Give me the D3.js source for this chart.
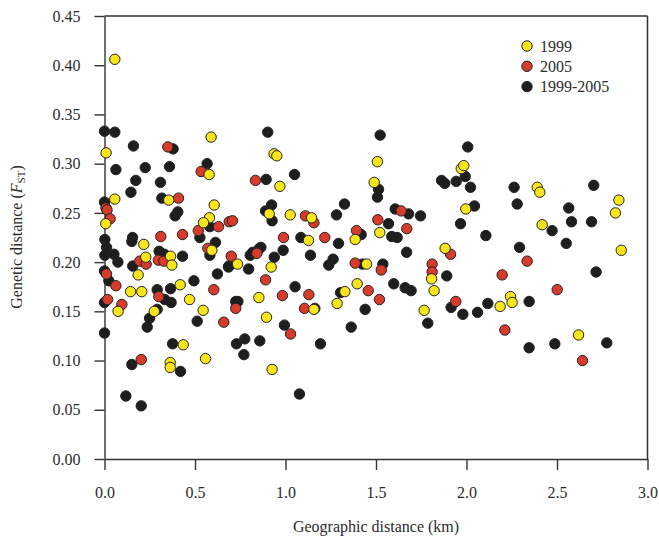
<!DOCTYPE html>
<html><head><meta charset="utf-8">
<script src="https://cdn.jsdelivr.net/npm/d3@7"></script>
<style>
html,body{margin:0;padding:0;background:#fff;}
svg text{font-family:"Liberation Serif","Times New Roman",serif;fill:#2b2b2b;}
</style></head>
<body><svg id="c" width="659" height="537"></svg>
<script>
// ---- data (geographic distance km, genetic distance Fst) ----
const x1999 = [0.057,0.009,0.057,0.007,0.217,0.228,0.355,0.365,0.372,0.589,0.578,0.606,0.580,0.547,0.593,0.735,0.937,0.952,0.969,0.910,1.026,1.144,1.127,0.921,1.508,1.490,1.971,1.985,1.996,2.391,2.405,2.418,2.842,2.823,2.855,1.521,1.385,1.882,1.448,0.144,0.186,0.206,0.275,0.418,0.470,0.545,0.558,0.363,0.363,0.435,0.853,0.895,0.926,1.157,0.075,1.396,1.328,1.285,1.807,1.821,1.766,2.186,2.243,2.252,2.619];
const y1999 = [0.406,0.311,0.264,0.239,0.218,0.205,0.263,0.206,0.197,0.327,0.289,0.258,0.245,0.240,0.212,0.198,0.310,0.308,0.277,0.249,0.248,0.245,0.222,0.195,0.302,0.281,0.295,0.298,0.254,0.276,0.271,0.238,0.263,0.250,0.212,0.230,0.223,0.214,0.198,0.170,0.187,0.170,0.150,0.177,0.162,0.151,0.102,0.098,0.093,0.116,0.164,0.144,0.091,0.152,0.150,0.178,0.170,0.158,0.183,0.171,0.151,0.155,0.165,0.159,0.126];

const x2005 = [0.350,0.008,0.014,0.031,0.534,0.409,0.311,0.431,0.518,0.630,0.689,0.707,0.700,0.842,0.834,0.989,1.110,1.157,1.217,0.195,0.230,0.298,0.328,0.571,1.510,1.392,1.639,1.670,1.912,1.385,1.810,2.335,1.529,0.011,0.063,0.017,0.096,0.203,0.300,0.604,0.659,0.725,0.890,0.983,1.028,1.105,1.129,1.810,1.457,1.519,1.941,2.197,2.212,2.501,2.641];
const y2005 = [0.317,0.255,0.253,0.244,0.292,0.265,0.226,0.228,0.232,0.236,0.241,0.242,0.206,0.209,0.283,0.225,0.247,0.240,0.225,0.201,0.198,0.202,0.201,0.214,0.243,0.232,0.252,0.234,0.208,0.199,0.198,0.201,0.192,0.188,0.176,0.162,0.157,0.101,0.165,0.172,0.139,0.153,0.182,0.166,0.127,0.153,0.167,0.190,0.171,0.162,0.160,0.187,0.131,0.172,0.100];

const xBoth = [0.0,0.057,0.160,0.379,0.063,0.225,0.359,0.567,0.173,0.309,0.146,0.317,0.0,0.405,0.390,0.002,0.011,0.002,0.052,0.074,0.155,0.151,0.302,0.331,0.431,0.156,0.527,0.582,0.613,0.582,0.805,0.819,0.856,0.864,0.687,0.796,0.902,0.893,1.050,0.890,0.923,0.926,0.938,0.987,1.085,1.138,1.239,1.523,2.007,1.514,1.508,1.862,1.880,1.943,1.993,2.022,2.044,2.263,2.280,2.703,2.565,2.580,2.691,2.473,2.551,2.293,2.107,1.967,1.669,1.326,1.282,1.293,1.569,1.606,1.680,1.746,1.587,1.617,1.418,1.263,1.425,1.538,2.716,0.0,0.0,0.0,0.024,0.151,0.118,0.203,0.236,0.249,0.291,0.291,0.333,0.368,0.365,0.376,0.420,0.494,0.512,0.624,0.685,0.725,0.737,0.729,0.775,0.770,0.858,0.994,1.053,1.077,1.162,1.193,1.304,1.440,1.363,1.598,1.661,1.694,1.891,1.915,1.980,2.061,2.118,1.786,2.346,2.346,2.488,2.775];
const yBoth = [0.333,0.332,0.318,0.315,0.294,0.296,0.297,0.300,0.283,0.281,0.271,0.265,0.261,0.251,0.247,0.223,0.215,0.207,0.208,0.200,0.225,0.221,0.211,0.208,0.206,0.196,0.225,0.236,0.220,0.207,0.207,0.210,0.214,0.215,0.196,0.193,0.332,0.284,0.289,0.252,0.258,0.242,0.205,0.212,0.225,0.207,0.197,0.329,0.317,0.274,0.266,0.283,0.280,0.282,0.287,0.276,0.257,0.276,0.259,0.278,0.255,0.241,0.241,0.232,0.219,0.215,0.227,0.239,0.210,0.259,0.248,0.219,0.239,0.254,0.249,0.247,0.226,0.225,0.228,0.203,0.198,0.198,0.190,0.128,0.159,0.191,0.181,0.096,0.064,0.054,0.134,0.143,0.172,0.152,0.162,0.159,0.173,0.117,0.089,0.181,0.140,0.188,0.195,0.160,0.160,0.117,0.122,0.106,0.120,0.136,0.175,0.066,0.153,0.117,0.169,0.152,0.134,0.178,0.174,0.171,0.186,0.154,0.147,0.149,0.158,0.138,0.160,0.113,0.117,0.118];

const xTicks = [0.0,0.5,1.0,1.5,2.0,2.5,3.0];
const yTicks = [0.00,0.05,0.10,0.15,0.20,0.25,0.30,0.35,0.40,0.45];
const seriesNames = ["1999","2005","1999-2005"];
const seriesColors = ["#f8e51c","#d63b2b","#1e1e1e"];

// ---- layout ----
const svg = d3.select("#c");
const L = 104.5, R = 647.5, T = 16, B = 459;
const x = d3.scaleLinear().domain([0,3]).range([L,R]);
const y = d3.scaleLinear().domain([0,0.45]).range([B,T]);

// frame top/right
svg.append("line").attr("x1",L).attr("x2",R).attr("y1",T).attr("y2",T).attr("stroke","#333").attr("stroke-width",1.3);
svg.append("line").attr("x1",R).attr("x2",R).attr("y1",T).attr("y2",B).attr("stroke","#333").attr("stroke-width",1.5);

const xAxis = svg.append("g").attr("transform",`translate(0,${B})`)
  .call(d3.axisBottom(x).tickValues(xTicks).tickFormat(d3.format(".1f")).tickSize(11).tickSizeOuter(0).tickPadding(17));
const yAxis = svg.append("g").attr("transform",`translate(${L},0)`)
  .call(d3.axisLeft(y).tickValues(yTicks).tickFormat(d3.format(".2f")).tickSize(10).tickSizeOuter(0).tickPadding(14));
[xAxis,yAxis].forEach(g=>{
  g.selectAll("path,line").attr("stroke","#333").attr("stroke-width",1.4);
  g.selectAll("text").attr("font-size",16).attr("font-family","Liberation Serif, serif").attr("fill","#2b2b2b");
});

// points: black, then red, then yellow
const sets = [
  {xs:xBoth, ys:yBoth, c:seriesColors[2]},
  {xs:x2005, ys:y2005, c:seriesColors[1]},
  {xs:x1999, ys:y1999, c:seriesColors[0]}
];
sets.forEach(s=>{
  svg.append("g").selectAll("circle").data(s.xs.map((v,i)=>[v,s.ys[i]])).enter()
    .append("circle").attr("cx",d=>x(d[0])).attr("cy",d=>y(d[1])).attr("r",5.2)
    .attr("fill",s.c).attr("stroke","#222").attr("stroke-width",1);
});

// legend
const lg = svg.append("g");
seriesNames.forEach((n,i)=>{
  const yy = 46 + i*20.3;
  lg.append("circle").attr("cx",527).attr("cy",yy).attr("r",5.2).attr("fill",seriesColors[i]).attr("stroke","#222").attr("stroke-width",1);
  lg.append("text").attr("x",540).attr("y",yy).attr("dy","0.35em").attr("font-size",16).text(n);
});

// axis titles
svg.append("text").attr("x",376).attr("y",532).attr("text-anchor","middle").attr("font-size",16).text("Geographic distance (km)");
const yt = svg.append("text").attr("transform","translate(22,237) rotate(-90)").attr("text-anchor","middle").attr("font-size",16);
yt.append("tspan").text("Genetic distance (");
yt.append("tspan").attr("font-style","italic").text("F");
yt.append("tspan").attr("font-size",11).attr("dy",3).text("ST");
yt.append("tspan").attr("dy",-3).text(")");
</script></body></html>
